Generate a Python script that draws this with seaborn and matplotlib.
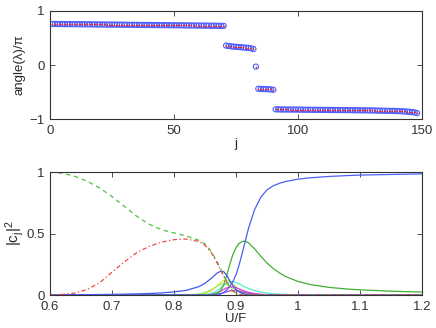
import matplotlib
matplotlib.use("Agg")
import matplotlib.pyplot as plt
import numpy as np
import pandas as pd
import seaborn as sns
from matplotlib.ticker import FormatStrFormatter

# ---- top panel: phase of eigenvalues, grouped by branch ----
phase_g1 = [0.760, 0.760, 0.759, 0.759, 0.758, 0.758, 0.757, 0.757, 0.756, 0.756,
            0.755, 0.755, 0.754, 0.754, 0.753, 0.753, 0.752, 0.752, 0.751, 0.751,
            0.750, 0.750, 0.749, 0.749, 0.748, 0.748, 0.747, 0.747, 0.746, 0.746,
            0.745, 0.745, 0.744, 0.744, 0.743, 0.743, 0.742, 0.742, 0.741, 0.741,
            0.740, 0.740, 0.739, 0.739, 0.738, 0.738, 0.737, 0.737, 0.736, 0.736,
            0.735, 0.735, 0.734, 0.734, 0.733, 0.733, 0.732, 0.732, 0.731, 0.731,
            0.730, 0.730, 0.729, 0.729, 0.728, 0.728, 0.727, 0.726, 0.725, 0.724]
phase_g2 = [0.360, 0.352, 0.346, 0.341, 0.337, 0.333, 0.329, 0.325, 0.321, 0.316,
            0.309, 0.295]
phase_g3 = [-0.030]
phase_g4 = [-0.440, -0.442, -0.444, -0.446, -0.448, -0.452, -0.458]
phase_g5 = [-0.820, -0.821, -0.822, -0.822, -0.823, -0.823, -0.824, -0.824, -0.825, -0.825,
            -0.826, -0.826, -0.827, -0.827, -0.828, -0.828, -0.829, -0.829, -0.830, -0.830,
            -0.831, -0.831, -0.832, -0.832, -0.833, -0.833, -0.834, -0.834, -0.835, -0.835,
            -0.836, -0.836, -0.837, -0.837, -0.838, -0.838, -0.839, -0.839, -0.840, -0.841,
            -0.842, -0.843, -0.844, -0.845, -0.846, -0.847, -0.848, -0.849, -0.850, -0.852,
            -0.854, -0.856, -0.859, -0.862, -0.866, -0.871, -0.878, -0.890]

phase = phase_g1 + phase_g2 + phase_g3 + phase_g4 + phase_g5
j_index = np.arange(1, len(phase) + 1)

# ---- bottom panel: overlaps |c_j|^2 vs U/F ----
uf = [0.60, 0.62, 0.64, 0.66, 0.68, 0.70, 0.72, 0.74, 0.76, 0.78,
      0.80, 0.82, 0.84, 0.85, 0.86, 0.87, 0.875, 0.88, 0.885, 0.89,
      0.895, 0.90, 0.905, 0.91, 0.915, 0.92, 0.93, 0.94, 0.95, 0.96,
      0.97, 0.98, 1.00, 1.02, 1.05, 1.08, 1.10, 1.15, 1.20]

c_green_dash = [1.000, 0.990, 0.965, 0.925, 0.870, 0.800, 0.720, 0.640, 0.575, 0.530,
                0.505, 0.480, 0.445, 0.415, 0.355, 0.265, 0.215, 0.160, 0.110, 0.065,
                0.035, 0.015, 0.006, 0.002] + [0.0] * 15
c_red_dashdot = [0.000, 0.005, 0.015, 0.045, 0.100, 0.185, 0.270, 0.345, 0.395, 0.430,
                 0.450, 0.455, 0.435, 0.405, 0.345, 0.255, 0.205, 0.155, 0.105, 0.060,
                 0.030, 0.012, 0.004, 0.001] + [0.0] * 15
c_blue_peak = [0.000, 0.001, 0.002, 0.003, 0.004, 0.005, 0.007, 0.009, 0.012, 0.017,
               0.025, 0.038, 0.068, 0.095, 0.135, 0.180, 0.192, 0.190, 0.160, 0.115,
               0.075, 0.045, 0.025, 0.013, 0.006, 0.003, 0.001] + [0.0] * 12
c_blue_rise = [0.0] * 15 + [0.003, 0.008, 0.020, 0.040, 0.070, 0.110, 0.165, 0.245, 0.340,
                            0.440, 0.540, 0.695, 0.795, 0.855, 0.888, 0.908, 0.923, 0.942,
                            0.953, 0.964, 0.971, 0.975, 0.980, 0.985]
c_green = [0.0] * 14 + [0.003, 0.015, 0.035, 0.080, 0.160, 0.250, 0.330, 0.385, 0.420,
                        0.435, 0.438, 0.425, 0.375, 0.315, 0.260, 0.215, 0.180, 0.150,
                        0.110, 0.085, 0.062, 0.048, 0.042, 0.031, 0.024]
c_yellow = [0.0] * 12 + [0.005, 0.015, 0.035, 0.075, 0.100, 0.118, 0.122, 0.112, 0.090,
                         0.065, 0.045, 0.030, 0.019, 0.012, 0.005, 0.002] + [0.0] * 11
c_lime = [0.0] * 12 + [0.008, 0.020, 0.042, 0.072, 0.085, 0.090, 0.085, 0.072, 0.055,
                       0.040, 0.028, 0.018, 0.011, 0.007, 0.003] + [0.0] * 12
c_cyan = [0.0] * 13 + [0.004, 0.012, 0.035, 0.055, 0.078, 0.097, 0.106, 0.108, 0.102,
                       0.090, 0.077, 0.064, 0.053, 0.036, 0.024, 0.016, 0.010, 0.006,
                       0.004, 0.002] + [0.0] * 6
c_magenta = [0.0] * 14 + [0.005, 0.018, 0.030, 0.045, 0.058, 0.065, 0.066, 0.060, 0.050,
                          0.040, 0.030, 0.022, 0.012, 0.006, 0.003] + [0.0] * 10
c_purple = [0.0] * 15 + [0.006, 0.012, 0.018, 0.026, 0.033, 0.037, 0.036, 0.031, 0.025,
                         0.019, 0.014, 0.007, 0.003] + [0.0] * 11

curves = {
    "yellow": (c_yellow, "#d8e030", "-"),
    "lime": (c_lime, "#a0ec60", "-"),
    "cyan": (c_cyan, "#50f0c8", "-"),
    "purple": (c_purple, "#9050d0", "-"),
    "magenta": (c_magenta, "#e040e0", "-"),
    "green": (c_green, "#40b030", "-"),
    "blue_peak": (c_blue_peak, "#4058f0", "-"),
    "blue_rise": (c_blue_rise, "#4a60f4", "-"),
    "green_dash": (c_green_dash, "#50c040", (0, (3.5, 3))),
    "red_dashdot": (c_red_dashdot, "#f04848", (0, (3.5, 2, 1, 2))),
}

sns.set_style("ticks")
plt.rcParams["font.family"] = ["Liberation Sans", "DejaVu Sans"]
plt.rcParams.update({
    "xtick.direction": "in", "ytick.direction": "in",
    "xtick.top": True, "ytick.right": True,
    "xtick.major.size": 3.5, "ytick.major.size": 3.5,
    "xtick.major.width": 0.6, "ytick.major.width": 0.6,
    "xtick.major.pad": 4, "ytick.major.pad": 4,
    "xtick.color": "#333333", "ytick.color": "#333333",
    "axes.edgecolor": "#333333", "axes.linewidth": 0.8,
    "xtick.labelsize": 9.5, "ytick.labelsize": 9.5,
    "axes.labelsize": 9.5,
})

fig = plt.figure(figsize=(4.36, 3.28), dpi=100)
ax1 = fig.add_axes([0.1147, 0.637, 0.8533, 0.3295])
ax2 = fig.add_axes([0.1147, 0.1006, 0.8533, 0.375])

top = pd.DataFrame({"j": j_index, "phase": phase})
sns.scatterplot(data=top, x="j", y="phase", ax=ax1, marker="o", s=14,
                facecolor="none", edgecolor="#4a5cff", linewidth=0.8, legend=False)
sns.scatterplot(data=top, x="j", y="phase", ax=ax1, marker="o", s=1.5,
                color="#e8202a", linewidth=0, legend=False)
ax1.set_xlim(0, 150)
ax1.set_ylim(-1, 1)
ax1.set_xticks([0, 50, 100, 150])
ax1.set_yticks([-1, 0, 1])
ax1.set_xlabel("j", labelpad=1)
ax1.set_ylabel("angle(λ)/π", labelpad=3)

for name, (vals, col, ls) in curves.items():
    df = pd.DataFrame({"U/F": uf, "c": vals})
    sns.lineplot(data=df, x="U/F", y="c", ax=ax2, color=col, linestyle=ls,
                 linewidth=0.9, legend=False)
ax2.set_xlim(0.6, 1.2)
ax2.set_ylim(0, 1)
ax2.set_xticks([0.6, 0.7, 0.8, 0.9, 1.0, 1.1, 1.2])
ax2.set_yticks([0, 0.5, 1])
ax2.xaxis.set_major_formatter(FormatStrFormatter("%g"))
ax2.yaxis.set_major_formatter(FormatStrFormatter("%g"))
ax2.set_xlabel("U/F", labelpad=0)
ax2.set_ylabel(r"$\mathregular{|c_j|^2}$", fontsize=11, labelpad=0)

for ax in (ax1, ax2):
    for side in ("top", "right"):
        ax.spines[side].set_visible(True)

fig.savefig("out.png", dpi=100)
